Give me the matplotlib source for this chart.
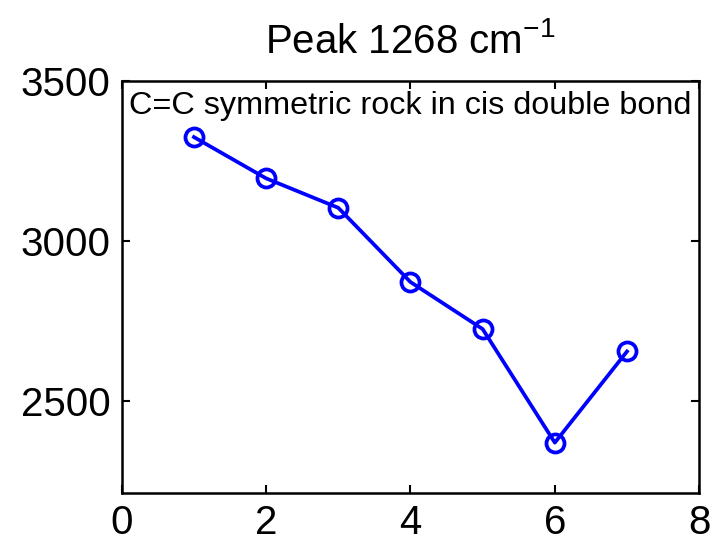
import matplotlib
matplotlib.use('Agg')
import matplotlib.pyplot as plt

plt.rcParams['font.family'] = ['Liberation Sans', 'DejaVu Sans']

sample = [1, 2, 3, 4, 5, 6, 7]
intensity = [3325, 3196, 3104, 2872, 2725, 2370, 2655]
x_ticks = [0, 2, 4, 6, 8]
y_ticks = [2500, 3000, 3500]


def draw_peak_plot():
    fig = plt.figure(figsize=(7.12, 5.48), dpi=100)
    ax = fig.add_axes([0.171, 0.100, 0.811, 0.752])
    ax.plot(sample, intensity, color='#0000ff', linewidth=2.7,
            marker='o', markersize=13, markerfacecolor='none',
            markeredgewidth=2.7)
    ax.set_xlim(0, 8)
    ax.set_ylim(2212, 3500)
    ax.set_xticks(x_ticks)
    ax.set_yticks(y_ticks)
    ax.tick_params(direction='in', length=6, width=1.5, labelsize=29,
                   top=True, right=True, pad=8)
    for spine in ax.spines.values():
        spine.set_linewidth(1.8)
    ax.set_title('Peak 1268 cm$^{\\mathregular{-1}}$', fontsize=29, pad=20)
    ax.text(0.013, 0.975, 'C=C symmetric rock in cis double bond',
            transform=ax.transAxes, fontsize=23.3, va='top', ha='left')
    fig.savefig('out.png', dpi=100)


if __name__ == '__main__':
    draw_peak_plot()
